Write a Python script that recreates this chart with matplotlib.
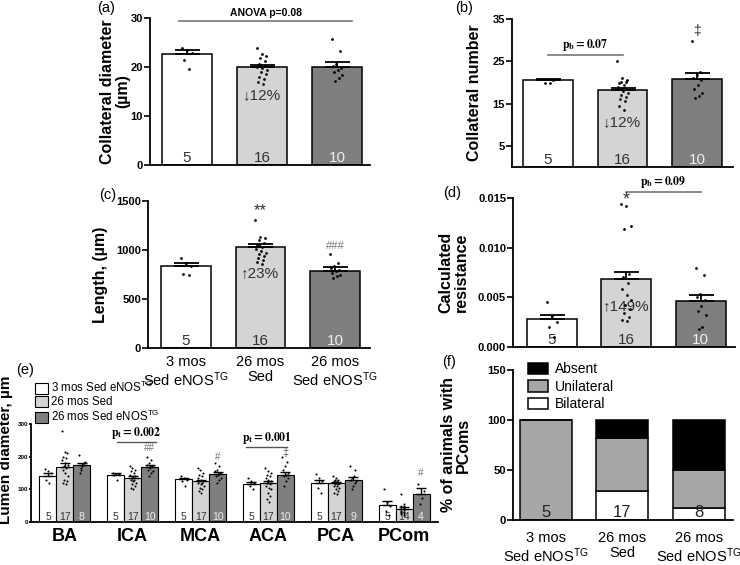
import matplotlib
matplotlib.use("Agg")
import matplotlib.pyplot as plt
from matplotlib.patches import Patch
import numpy as np

plt.rcParams['font.family'] = ['Liberation Sans', 'DejaVu Sans']
plt.rcParams['mathtext.fontset'] = 'custom'
plt.rcParams['mathtext.rm'] = 'Liberation Sans'
plt.rcParams['mathtext.it'] = 'Liberation Sans'
plt.rcParams['mathtext.bf'] = 'Liberation Sans:bold'

# ---------------- data ----------------
groups = ['3 mos\nSed eNOS$^{\\mathrm{TG}}$', '26 mos\nSed', '26 mos\nSed eNOS$^{\\mathrm{TG}}$']
group_n = [5, 16, 10]

diam_mean = [22.6, 20.0, 20.1]
diam_sem = [0.8, 0.5, 0.9]
diam_dots = [
    [23.8, 23.4, 22.9, 21.4, 19.6],
    [23.9, 22.6, 22.3, 21.9, 21.2, 20.6, 20.3, 20.0, 19.7, 19.4, 19.0, 18.5, 18.0, 17.5, 17.0, 16.5],
    [25.7, 23.2, 20.6, 20.2, 19.8, 19.4, 18.9, 18.3, 17.7, 17.1],
]

num_mean = [20.6, 18.1, 20.9]
num_sem = [0.2, 0.7, 1.3]
num_dots = [
    [20.9, 20.7, 20.5, 19.9, 19.8],
    [25.0, 21.0, 20.5, 20.2, 20.0, 19.8, 19.5, 19.0, 18.0, 17.5, 17.0, 16.5, 16.0, 15.5, 14.5, 13.5],
    [29.8, 22.5, 21.8, 21.0, 20.5, 19.5, 18.5, 17.5, 16.8, 16.2],
]

len_mean = [837, 1030, 789]
len_sem = [33, 34, 34]
len_dots = [
    [920, 870, 840, 760, 745],
    [1310, 1135, 1120, 1100, 1070, 1050, 1030, 1010, 990, 970, 960, 940, 920, 900, 880, 860],
    [960, 870, 840, 815, 800, 785, 770, 750, 730, 710],
]

res_mean = [0.0028, 0.0068, 0.0046]
res_sem = [0.0004, 0.0008, 0.0006]
res_dots = [
    [0.0045, 0.0031, 0.0025, 0.0020, 0.0010],
    [0.0144, 0.0142, 0.0122, 0.0119, 0.0073, 0.0070, 0.0064, 0.0058, 0.0052, 0.0047,
     0.0042, 0.0038, 0.0034, 0.0030, 0.0027, 0.0026],
    [0.0080, 0.0072, 0.0053, 0.0050, 0.0047, 0.0041, 0.0036, 0.0032, 0.0020, 0.0018],
]

vessels = ['BA', 'ICA', 'MCA', 'ACA', 'PCA', 'PCom']
lumen_mean = [
    [142, 145, 131, 116, 120, 52],   # 3 mos Sed eNOS TG
    [168, 135, 125, 120, 118, 41],   # 26 mos Sed
    [173, 168, 148, 145, 130, 85],   # 26 mos Sed eNOS TG
]
lumen_sem = [
    [9, 4, 4, 6, 9, 12],
    [12, 6, 5, 7, 5, 4],
    [7, 5, 6, 7, 7, 20],
]
lumen_n = [
    [5, 5, 5, 5, 5, 5],
    [17, 17, 17, 17, 17, 14],
    [8, 10, 10, 10, 9, 4],
]
lumen_dots = [
    [[162, 155, 150, 128, 118], [150, 148, 146, 145, 130], [140, 135, 130, 125, 110],
     [135, 125, 120, 110, 100], [148, 135, 125, 105, 90], [100, 60, 50, 35, 20]],
    [[280, 215, 210, 200, 195, 190, 180, 175, 170, 165, 160, 150, 140, 130, 125, 120, 115],
     [170, 165, 160, 155, 150, 145, 140, 140, 135, 130, 130, 125, 120, 115, 110, 105, 100],
     [165, 160, 150, 145, 140, 135, 130, 125, 125, 120, 120, 115, 110, 105, 100, 95, 90],
     [165, 155, 150, 145, 140, 135, 130, 125, 120, 115, 110, 105, 100, 90, 80, 70, 60],
     [140, 135, 130, 130, 125, 125, 120, 120, 115, 115, 110, 110, 105, 100, 95, 90, 85],
     [85, 55, 50, 48, 45, 42, 40, 38, 35, 32, 30, 28, 25, 20]],
    [[205, 185, 180, 175, 170, 165, 160, 150],
     [200, 190, 180, 175, 170, 165, 160, 155, 150, 140],
     [180, 170, 160, 155, 150, 145, 140, 135, 130, 120],
     [200, 185, 170, 160, 150, 145, 140, 135, 125, 110],
     [170, 160, 140, 135, 130, 125, 120, 110, 100],
     [115, 95, 75, 55]],
]

pcom_status = ['Absent', 'Unilateral', 'Bilateral']
pcom_bilateral = [0.0, 29.4, 12.5]
pcom_unilateral = [100.0, 52.9, 37.5]
pcom_absent = [0.0, 17.7, 50.0]
pcom_n = [5, 17, 8]

# ---------------- style ----------------
bar_colors = ['#ffffff', '#d4d4d4', '#7f7f7f']
n_colors = ['#333333', '#333333', '#eeeeee']
W, H = 740, 565


def rect(x0, x1, y0, y1):
    return [x0 / W, 1 - y1 / H, (x1 - x0) / W, (y1 - y0) / H]


def jitter(n, width):
    if n == 1:
        return np.zeros(1)
    order = [(i * 7) % n for i in range(n)]
    return (np.array(order) / (n - 1) - 0.5) * width


def style(ax):
    for s in ['top', 'right']:
        ax.spines[s].set_visible(False)
    ax.spines['left'].set_linewidth(1.3)
    ax.spines['bottom'].set_linewidth(1.3)
    ax.tick_params(axis='y', length=4, width=1.2, labelsize=8, pad=1)
    ax.tick_params(axis='x', length=0)
    for lab in ax.get_yticklabels():
        lab.set_fontweight('bold')


def bar_panel(ax, means, sems, dots, xlim):
    x = np.arange(3)
    ax.bar(x, means, width=0.667, color=bar_colors, edgecolor='black', linewidth=1.1, zorder=2)
    ax.errorbar(x, means, yerr=[np.zeros(3), sems], fmt='none', ecolor='black',
                elinewidth=1.3, capsize=9, capthick=1.3, zorder=3)
    for i, d in enumerate(dots):
        ax.scatter(i + jitter(len(d), 0.14), d, s=4, color='black', zorder=4, linewidths=0)
    ax.set_xlim(*xlim)
    ax.set_xticks(x)


fig = plt.figure(figsize=(7.4, 5.65), dpi=100)

# (a)
ax_a = fig.add_axes(rect(150, 370, 18, 165))
bar_panel(ax_a, diam_mean, diam_sem, diam_dots, (-0.49, 2.44))
ax_a.set_ylim(0, 30)
ax_a.set_yticks([0, 10, 20, 30])
ax_a.set_xticklabels([])
style(ax_a)
ax_a.set_ylabel('Collateral diameter\n(µm)', fontsize=11.5, fontweight='bold', linespacing=1.0)
ax_a.yaxis.set_label_coords(-0.09, 0.5)
ax_a.plot([-0.1, 2.2], [29.4, 29.4], color='#777777', lw=1.2, clip_on=False)
ax_a.text(1.05, 29.9, 'ANOVA p=0.08', ha='center', va='bottom', fontsize=7.5,
          fontweight='bold', clip_on=False)
ax_a.text(1, 14.2, '↓12%', ha='center', va='center', fontsize=11, color='#333333')

# (b)
ax_b = fig.add_axes(rect(512, 733, 19, 167))
bar_panel(ax_b, num_mean, num_sem, num_dots, (-0.48, 2.48))
ax_b.set_ylim(0, 35)
ax_b.set_yticks([5, 15, 25, 35])
ax_b.set_xticklabels([])
style(ax_b)
ax_b.set_ylabel('Collateral number', fontsize=11.5, fontweight='bold')
ax_b.yaxis.set_label_coords(-0.135, 0.5)
ax_b.plot([0.0, 1.0], [26.6, 26.6], color='#777777', lw=1.2)
ax_b.text(0.5, 27.0, r'$\mathbf{p_b=0.07}$', math_fontfamily='stix', ha='center',
          va='bottom', fontsize=8.5)
ax_b.text(1, 10.7, '↓12%', ha='center', va='center', fontsize=11, color='#333333')
ax_b.text(2, 32.2, '‡', ha='center', va='center', fontsize=10, color='#333333')

# (c)
ax_c = fig.add_axes(rect(148, 370, 201, 348))
bar_panel(ax_c, len_mean, len_sem, len_dots, (-0.51, 2.47))
ax_c.set_ylim(0, 1500)
ax_c.set_yticks([0, 500, 1000, 1500])
ax_c.set_xticklabels(groups, fontsize=10.5, linespacing=1.1)
style(ax_c)
ax_c.tick_params(axis='x', pad=5)
ax_c.set_ylabel('Length, (µm)', fontsize=11.5, fontweight='bold')
ax_c.yaxis.set_label_coords(-0.18, 0.5)
ax_c.text(1, 1400, '**', ha='center', va='center', fontsize=12, color='#333333')
ax_c.text(2, 1045, '###', ha='center', va='center', fontsize=8, color='#777777')
ax_c.text(1, 760, '↑23%', ha='center', va='center', fontsize=11, color='#333333')

# (d)
ax_d = fig.add_axes(rect(513, 735, 198, 347))
bar_panel(ax_d, res_mean, res_sem, res_dots, (-0.52, 2.46))
ax_d.set_ylim(0, 0.015)
ax_d.set_yticks([0, 0.005, 0.010, 0.015])
ax_d.set_yticklabels(['0.000', '0.005', '0.010', '0.015'])
ax_d.set_xticklabels([])
style(ax_d)
ax_d.set_ylabel('Calculated\nresistance', fontsize=11.5, fontweight='bold', linespacing=1.0)
ax_d.yaxis.set_label_coords(-0.2, 0.5)
ax_d.text(1, 0.0148, '*', ha='center', va='center', fontsize=13, color='#333333')
ax_d.plot([1.0, 2.0], [0.0156, 0.0156], color='#777777', lw=1.2, clip_on=False)
ax_d.text(1.5, 0.0158, r'$\mathbf{p_b=0.09}$', math_fontfamily='stix', ha='center',
          va='bottom', fontsize=8.5, clip_on=False)
ax_d.text(1, 0.0041, '↑149%', ha='center', va='center', fontsize=11, color='#333333')

for ax in (ax_a, ax_b, ax_c, ax_d):
    for i, n in enumerate(group_n):
        ax.text(i, 0, str(n), transform=ax.get_xaxis_transform(), ha='center', va='bottom',
                fontsize=11, color=n_colors[i])

# (e)
ax_e = fig.add_axes(rect(31, 438, 424, 522))
centers = np.arange(len(vessels)) * 4.0
for g in range(3):
    xs = centers + (g - 1)
    ax_e.bar(xs, lumen_mean[g], width=1.0, color=bar_colors[g], edgecolor='black',
             linewidth=0.8, zorder=2)
    ax_e.errorbar(xs, lumen_mean[g], yerr=[np.zeros(len(vessels)), lumen_sem[g]], fmt='none',
                  ecolor='black', elinewidth=1.0, capsize=3.5, capthick=1.0, zorder=3)
    for v in range(len(vessels)):
        d = lumen_dots[g][v]
        ax_e.scatter(xs[v] + jitter(len(d), 0.35), d, s=2.2, color='black', zorder=4, linewidths=0)
        ax_e.text(xs[v], 0, str(lumen_n[g][v]), transform=ax_e.get_xaxis_transform(),
                  ha='center', va='bottom', fontsize=7.5, color=n_colors[g])
ax_e.set_xlim(-2.0, 22.0)
ax_e.set_ylim(0, 300)
ax_e.set_yticks([0, 100, 200, 300])
ax_e.set_xticks(centers)
ax_e.set_xticklabels(vessels, fontsize=13, fontweight='bold')
style(ax_e)
ax_e.tick_params(axis='y', labelsize=4.5, length=1.5, pad=0.5)
ax_e.tick_params(axis='x', pad=4)
ax_e.set_ylabel('Lumen diameter, µm', fontsize=11, fontweight='bold')
ax_e.yaxis.set_label_coords(-0.045, 0.74)
ax_e.plot([3.1, 5.4], [245, 245], color='#555555', lw=1.0)
ax_e.text(4.2, 247, r'$\mathbf{p_t=0.002}$', math_fontfamily='stix', ha='center',
          va='bottom', fontsize=8.5)
ax_e.text(5, 228, '##', ha='center', va='center', fontsize=7, color='#777777')
ax_e.text(9, 200, '#', ha='center', va='center', fontsize=7, color='#777777')
ax_e.plot([10.7, 13.1], [229, 229], color='#555555', lw=1.0)
ax_e.text(11.9, 234, r'$\mathbf{p_t=0.001}$', math_fontfamily='stix', ha='center',
          va='bottom', fontsize=8.5)
ax_e.text(13, 210, '‡', ha='center', va='center', fontsize=8, color='#555555')
ax_e.text(21, 150, '#', ha='center', va='center', fontsize=7, color='#777777')
handles_e = [Patch(facecolor=bar_colors[0], edgecolor='black', lw=0.8, label='3 mos Sed eNOS$^{\\mathrm{TG}}$'),
             Patch(facecolor=bar_colors[1], edgecolor='black', lw=0.8, label='26 mos Sed'),
             Patch(facecolor=bar_colors[2], edgecolor='black', lw=0.8, label='26 mos Sed eNOS$^{\\mathrm{TG}}$')]
ax_e.legend(handles=handles_e, loc='lower left', bbox_to_anchor=(0.01, 1.0), frameon=False,
            fontsize=8.3, handlelength=1.1, handleheight=1.1, handletextpad=0.3,
            labelspacing=0.05, borderpad=0, borderaxespad=0)

# (f)
ax_f = fig.add_axes(rect(513, 733, 370, 520))
xf = np.arange(3)
ax_f.bar(xf, pcom_bilateral, width=0.68, color='white', edgecolor='black', linewidth=1.1,
         label='Bilateral', zorder=2)
ax_f.bar(xf, pcom_unilateral, width=0.68, bottom=pcom_bilateral, color='#a6a6a6',
         edgecolor='black', linewidth=1.1, label='Unilateral', zorder=2)
ax_f.bar(xf, pcom_absent, width=0.68, bottom=np.add(pcom_bilateral, pcom_unilateral),
         color='black', edgecolor='black', linewidth=1.1, label='Absent', zorder=2)
ax_f.set_xlim(-0.43, 2.45)
ax_f.set_ylim(0, 150)
ax_f.set_yticks([0, 50, 100, 150])
ax_f.set_xticks(xf)
ax_f.set_xticklabels(groups, fontsize=10.5, linespacing=1.1)
style(ax_f)
ax_f.tick_params(axis='x', pad=8)
ax_f.set_ylabel('% of animals with\nPComs', fontsize=11.5, fontweight='bold', linespacing=1.0)
ax_f.yaxis.set_label_coords(-0.19, 0.5)
for i, n in enumerate(pcom_n):
    ax_f.text(i, 0, str(n), transform=ax_f.get_xaxis_transform(), ha='center', va='bottom',
              fontsize=12, color='#222222')
h, l = ax_f.get_legend_handles_labels()
ax_f.legend(h[::-1], l[::-1], loc='upper left', bbox_to_anchor=(0.07, 1.05), frameon=False,
            fontsize=10, handlelength=1.4, handleheight=0.9, handletextpad=0.5,
            labelspacing=0.25, borderpad=0, borderaxespad=0)

# panel labels
for lab, px, py in [('(a)', 97, 8), ('(b)', 455, 8), ('(c)', 99, 195), ('(d)', 443, 193),
                    ('(e)', 16, 370), ('(f)', 442, 362)]:
    fig.text(px / W, 1 - py / H, lab, ha='left', va='center', fontsize=10.5)

fig.savefig('out.png', dpi=100)
